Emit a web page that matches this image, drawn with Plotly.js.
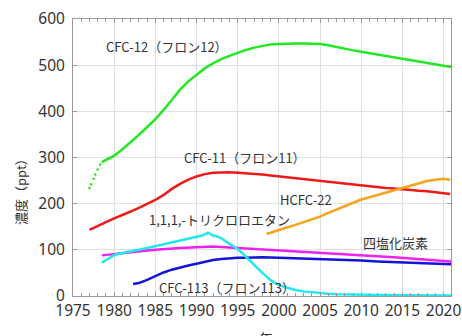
<!DOCTYPE html>
<html><head><meta charset="utf-8">
<script src="https://cdn.plot.ly/plotly-3.0.1.min.js"></script>
<style>body{margin:0;background:#fff}#c{width:462px;height:336px}</style>
</head><body><div id="c"></div>
<script>
// CFC-12 early sparse samples (dotted part)
const cfc12EarlyYears = [1977.0, 1977.2, 1977.5, 1977.7, 1978.0, 1978.3];
const cfc12EarlyVals  = [234, 242, 254, 263, 274, 285];
const cfc12Years = [1978.5,1979,1980,1981,1982,1983,1984,1985,1986,1987,1988,1989,1990,1991,1992,1993,1994,1995,1996,1997,1998,1999,2000,2001,2002,2003,2004,2005,2006,2007,2008,2009,2010,2011,2012,2013,2014,2015,2016,2017,2018,2019,2020,2020.9];
const cfc12Vals  = [290,295,304,318,333,349,366,383,403,425,447,465,480,493,504,513,520,527,533,538,542,545,546,547,547,547,547,546,543,539,536,532,529,526,523,520,517,514,511,508,505,502,499,496];

const cfc11Years = [1977,1978,1979,1980,1981,1982,1983,1984,1985,1986,1987,1988,1989,1990,1991,1992,1993,1994,1995,1996,1997,1998,1999,2000,2001,2002,2003,2004,2005,2006,2007,2008,2009,2010,2011,2012,2013,2014,2015,2016,2017,2018,2019,2020,2020.8];
const cfc11Vals  = [143,152,160,168,175,183,191,199,208,219,232,243,252,259,264,267,268,268,267,266,265,263,261,259,257,255,253,251,249,247,245,243,241,239,237,235,234,233,231,230,228,227,225,223,221];

const hcfc22Years = [1998.5,1999,2000,2001,2002,2003,2004,2005,2006,2007,2008,2009,2010,2011,2012,2013,2014,2015,2016,2017,2018,2019,2020,2020.8];
const hcfc22Vals  = [135,137,143,148,154,160,166,172,180,187,194,202,209,214,219,225,230,235,240,245,249,252,254,252];

const mcfYears = [1978.5,1979,1980,1981,1982,1983,1984,1985,1986,1987,1988,1989,1990,1990.7,1991.4,1992,1992.5,1993,1994,1995,1996,1997,1998,1999,2000,2001,2002,2003,2004,2005,2006,2007,2008,2010,2012,2015,2018,2020.9];
const mcfVals  = [72,78,89,93,96,100,104,108,112,117,121,125,128,131,137,131,129,125,113,102,85,67,50,34,24,18,13,10,8,6,5,4,3.5,3,2.3,1.8,1.5,1.2];

const ccl4Years = [1978.5,1980,1982,1985,1988,1990,1992,1994,1996,1998,2000,2002,2004,2006,2008,2010,2012,2014,2016,2018,2020.9];
const ccl4Vals  = [88,91,95,100,104,106,107,105,103,101,99,97,95,93,90,88,86,84,81,79,75];

const cfc113Years = [1982.3,1983,1984,1985,1986,1987,1988,1989,1990,1991,1992,1993,1994,1995,1996,1998,2000,2002,2004,2006,2008,2010,2012,2014,2016,2018,2020.9];
const cfc113Vals  = [26,28,35,43,51,57,62,66,70,74,78,80,82,83,83,84,83,82,81,80,78,77,75,74,72,71,69];

const labelTexts = ["CFC-12（フロン12）","CFC-11（フロン11）","HCFC-22","1,1,1,-トリクロロエタン","四塩化炭素","CFC-113（フロン113）"];
const labelX = [1986.4, 1995.9, 2003.3, 1992.8, 2014.1, 1993.7];
const labelY = [541, 301, 210, 165, 115, 19.5];

const font = "'Noto Sans CJK JP', 'Noto Sans', sans-serif";
const numFont = "'Noto Sans', sans-serif";
function line(x, y, color) {
  return {x, y, type:'scatter', mode:'lines', line:{color, width:2.5}, hoverinfo:'skip'};
}
const data = [
  {x:cfc12EarlyYears, y:cfc12EarlyVals, type:'scatter', mode:'markers', marker:{color:'#22e822', size:2.5}},
  line(cfc12Years, cfc12Vals, '#22e822'),
  line(cfc11Years, cfc11Vals, '#ee1a1a'),
  line(hcfc22Years, hcfc22Vals, '#f5a31a'),
  line(ccl4Years, ccl4Vals, '#ee22ee'),
  line(cfc113Years, cfc113Vals, '#1414d8'),
  line(mcfYears, mcfVals, '#22e8ee')
];
const annotations = labelTexts.map((t,i)=>({x:labelX[i], y:labelY[i], xref:'x', yref:'y', text:t, showarrow:false, font:{family:font, size:13, color:'#333'}}));
annotations.push({x:-0.168, y:0.39, xref:'paper', yref:'paper', text:'濃度（ppt）', textangle:-90, showarrow:false, font:{family:font, size:13, color:'#333'}});
annotations.push({x:0.51, y:-0.11, xref:'paper', yref:'paper', yanchor:'top', text:'年', showarrow:false, font:{family:font, size:14, color:'#333'}});

const layout = {
  width:462, height:336,
  margin:{l:73, r:11, t:19, b:40},
  paper_bgcolor:'#fff', plot_bgcolor:'#fff',
  showlegend:false,
  font:{family:font, color:'#333'},
  xaxis:{range:[1975,2020.9], dtick:5, tick0:1975, ticks:'inside', ticklen:4, tickcolor:'#999',
    minor:{dtick:1, ticks:'inside', ticklen:3, tickcolor:'#999', showgrid:false},
    showline:true, linecolor:'#999', mirror:'ticks', gridcolor:'#e0e0e0', zeroline:false,
    ticklabeloverflow:'allow',
    tickfont:{family:numFont, size:15.5, color:'#333'}},
  yaxis:{range:[0,600], dtick:100, ticks:'inside', ticklen:4, tickcolor:'#999', ticklabelstandoff:4,
    showline:true, linecolor:'#999', mirror:'ticks', gridcolor:'#e0e0e0', zeroline:false,
    tickfont:{family:numFont, size:15.5, color:'#333'}},
  annotations
};
Plotly.newPlot('c', data, layout, {displayModeBar:false, staticPlot:true});
</script></body></html>
